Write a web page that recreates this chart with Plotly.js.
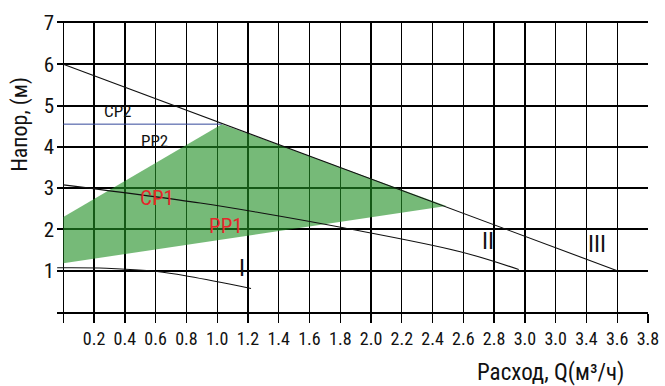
<!DOCTYPE html>
<html>
<head>
<meta charset="utf-8">
<script src="https://cdn.plot.ly/plotly-3.0.1.min.js"></script>
<style>
html,body{margin:0;padding:0;background:#fff;}
#chart{width:665px;height:386px;}
</style>
</head>
<body>
<div id="chart"></div>
<script>
// ---- data ----
const xTickVals = [0,0.2,0.4,0.6,0.8,1.0,1.2,1.4,1.6,1.8,2.0,2.2,2.4,2.6,2.8,3.0,3.2,3.4,3.6,3.8];
const xTickText = ['','0.2','0.4','0.6','0.8','1.0','1.2','1.4','1.6','1.8','2.0','2.2','2.4','2.6','2.8','3.0','3.0','3.4','3.6','3.8'];
const yTickVals = [0,1,2,3,4,5,6,7];
const yTickText = ['','1','2','3','4','5','6','7'];

// working area (green)
const areaQ = [0, 1.03, 2.49, 0];
const areaH = [2.30, 4.55, 2.57, 1.18];
// CP2 set-point line
const cp2Q = [0, 1.03];
const cp2H = [4.55, 4.55];
// speed curves
const curveIIIQ = [0, 3.6];
const curveIIIH = [6.0, 1.0];
const curveIIQ = [0, 0.89, 1.27, 1.82, 2.58, 2.96];
const curveIIH = [3.08, 2.64, 2.41, 2.04, 1.46, 1.03];
const curveIQ = [-0.04, 0.28, 0.61, 0.82, 1.22];
const curveIH = [1.07, 1.06, 0.98, 0.86, 0.57];

// labels
const labelText = ['CP2','PP2','CP1','PP1','I','II','III'];
const labelQ = [0.35, 0.59, 0.61, 1.06, 1.16, 2.76, 3.47];
const labelH = [4.86, 4.13, 2.75, 2.09, 1.06, 1.72, 1.65];

const FONT = '"Liberation Sans Narrow", "Roboto Condensed", Roboto, sans-serif';
const labelColor = ['#111','#111','#e6262b','#e6262b','#111','#111','#111'];
const labelSize = [17,17,21,21,24,24,24];

const traces = [
  {x: areaQ, y: areaH, mode: 'lines', fill: 'toself', fillcolor: 'rgba(34,144,37,0.62)',
   line: {width: 0}, hoverinfo: 'skip'},
  {x: cp2Q, y: cp2H, mode: 'lines', line: {color: '#34489a', width: 1}},
  {x: curveIIIQ, y: curveIIIH, mode: 'lines', line: {color: '#111', width: 1.1}},
  {x: curveIIQ, y: curveIIH, mode: 'lines', line: {color: '#111', width: 1.1, shape: 'spline'}},
  {x: curveIQ, y: curveIH, mode: 'lines', line: {color: '#111', width: 1.1, shape: 'spline'}}
];

const annotations = labelText.map((t, i) => ({
  x: labelQ[i], y: labelH[i], xref: 'x', yref: 'y', text: t, showarrow: false,
  xanchor: 'center', yanchor: 'middle',
  font: {family: FONT, size: labelSize[i], color: labelColor[i]}
}));
annotations.push({
  xref: 'paper', yref: 'paper', x: 0.8346, y: -0.2078, text: 'Расход, Q(м³/ч)',
  xanchor: 'center', yanchor: 'middle',
  showarrow: false, font: {family: FONT, size: 23, color: '#111'}
});
annotations.push({
  xref: 'paper', yref: 'paper', x: -0.0626, y: 0.6477, text: 'Напор, (м)', textangle: -90,
  xanchor: 'center', yanchor: 'middle',
  showarrow: false, font: {family: FONT, size: 22, color: '#111'}
});

const layout = {
  width: 665, height: 386,
  margin: {l: 57, r: 17.3, t: 23.3, b: 74},
  paper_bgcolor: '#fff', plot_bgcolor: '#fff',
  showlegend: false,
  xaxis: {
    range: [-0.041, 3.8], tickmode: 'array', tickvals: xTickVals, ticktext: xTickText,
    showgrid: true, gridcolor: '#000', gridwidth: 1.3, zeroline: false,
    showline: true, linecolor: '#000', linewidth: 2, mirror: true,
    ticks: 'outside', ticklen: 9, tickwidth: 1.3, tickcolor: '#000',
    tickfont: {family: FONT, size: 18, color: '#111'}, fixedrange: true
  },
  yaxis: {
    range: [0, 7], tickmode: 'array', tickvals: yTickVals, ticktext: yTickText,
    showgrid: true, gridcolor: '#000', gridwidth: 2, zeroline: false, showline: false,
    ticks: '', ticklabelstandoff: 2,
    tickfont: {family: FONT, size: 21, color: '#111'}, fixedrange: true
  },
  annotations: annotations
};

Plotly.newPlot('chart', traces, layout, {displayModeBar: false, staticPlot: true});
</script>
</body>
</html>
